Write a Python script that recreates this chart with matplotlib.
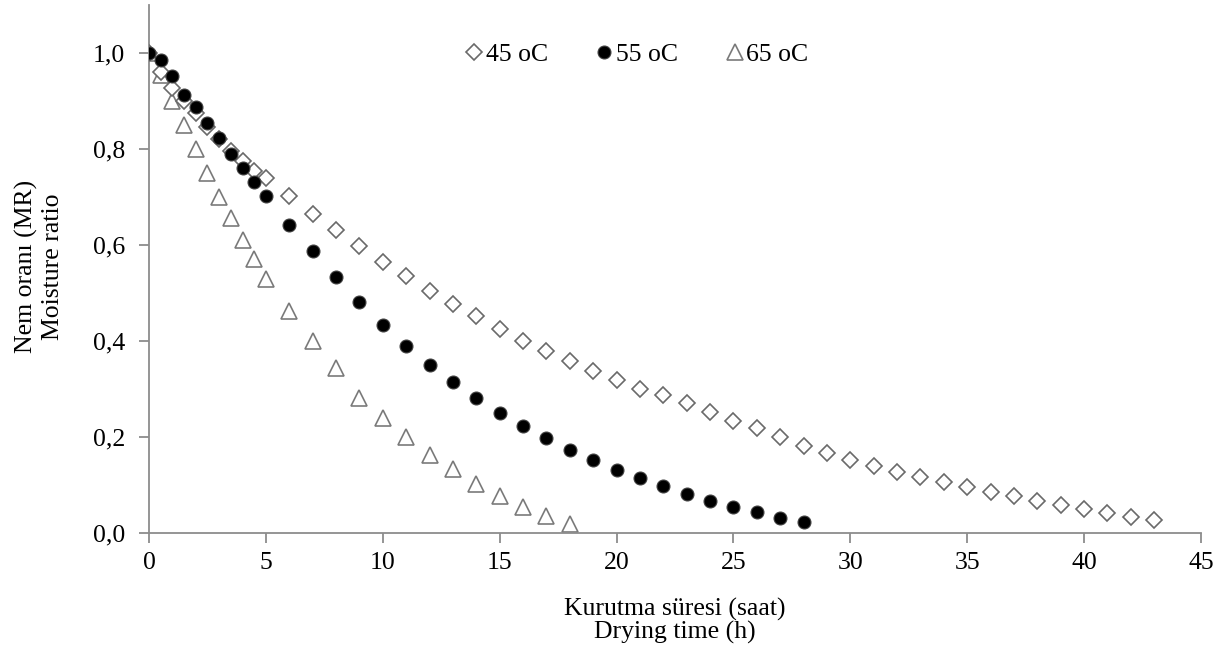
import matplotlib
matplotlib.use("Agg")
import matplotlib.pyplot as plt

plt.rcParams['font.family'] = ['Liberation Serif', 'DejaVu Serif']

# Data
t45 = [0, 0.5, 1, 1.5, 2, 2.5, 3, 3.5, 4, 4.5, 5] + list(range(6, 44))
mr45 = [1.0, 0.96, 0.927, 0.90, 0.875, 0.845, 0.82, 0.795, 0.775, 0.755, 0.74,
        0.703, 0.665, 0.632, 0.598, 0.565, 0.536, 0.505, 0.478, 0.452, 0.425,
        0.401, 0.38, 0.359, 0.338, 0.318, 0.301, 0.287, 0.27, 0.252, 0.234,
        0.218, 0.199, 0.182, 0.167, 0.153, 0.14, 0.128, 0.117, 0.107, 0.096,
        0.086, 0.077, 0.067, 0.059, 0.05, 0.042, 0.034, 0.027]

t55 = [0, 0.5, 1, 1.5, 2, 2.5, 3, 3.5, 4, 4.5, 5] + list(range(6, 29))
mr55 = [1.0, 0.985, 0.953, 0.912, 0.887, 0.855, 0.822, 0.79, 0.76, 0.732, 0.703,
        0.642, 0.588, 0.533, 0.481, 0.433, 0.39, 0.351, 0.315, 0.282, 0.251,
        0.222, 0.197, 0.173, 0.152, 0.132, 0.114, 0.097, 0.081, 0.067, 0.055,
        0.043, 0.031, 0.022]

t65 = [0, 0.5, 1, 1.5, 2, 2.5, 3, 3.5, 4, 4.5, 5] + list(range(6, 19))
mr65 = [1.0, 0.955, 0.90, 0.85, 0.80, 0.75, 0.70, 0.657, 0.61, 0.57, 0.53,
        0.462, 0.40, 0.343, 0.282, 0.24, 0.199, 0.163, 0.133, 0.103, 0.078,
        0.055, 0.035, 0.018]

labels = ['45 oC', '55 oC', '65 oC']
xticks = list(range(0, 46, 5))
yticks = [0.0, 0.2, 0.4, 0.6, 0.8, 1.0]
ytick_labels = ['0,0', '0,2', '0,4', '0,6', '0,8', '1,0']

FS = 18.5

fig = plt.figure(figsize=(12.26, 6.6), dpi=100)
ax = fig.add_axes([149/1226, (660-533)/660, (1201-149)/1226, (533-5)/660])

grey = '#8c8c8c'
ax.plot(t45, mr45, linestyle='none', marker='D', ms=8, mfc='white', mec='#6a6a6a', mew=1.2, label=labels[0], zorder=3)
ax.plot(t55, mr55, linestyle='none', marker='o', ms=9.3, mfc='black', mec='#404040', mew=0.8, label=labels[1], zorder=4)
ax.plot(t65, mr65, linestyle='none', marker='^', ms=11.5, mfc='none', mec='#7a7a7a', mew=1.2, label=labels[2], zorder=2)

ax.set_xlim(0, 45)
ax.set_ylim(0, 1.1)
ax.set_xticks(xticks)
ax.set_xticklabels([str(v) for v in xticks])
ax.set_yticks(yticks)
ax.set_yticklabels(ytick_labels)

for s in ['top', 'right']:
    ax.spines[s].set_visible(False)
for s in ['left', 'bottom']:
    ax.spines[s].set_color(grey)
    ax.spines[s].set_linewidth(1.3)

ax.tick_params(axis='both', direction='out', length=7, width=1.3, color=grey,
               labelsize=FS, labelcolor='black')
ax.tick_params(axis='x', pad=7)
ax.tick_params(axis='y', pad=10)

ax.set_xlabel('Kurutma süresi (saat)\nDrying time (h)', fontsize=FS, linespacing=1.0)
ax.xaxis.set_label_coords(0.5, (533-598)/528)
ax.set_ylabel('Nem oranı (MR)\nMoisture ratio', fontsize=FS, linespacing=1.25)
ax.yaxis.set_label_coords((64-149)/1052, 0.505)

leg = ax.legend(loc='center', bbox_to_anchor=((638-149)/1052, (533-55)/528), ncol=3,
                frameon=False, fontsize=FS, handlelength=0.5, handletextpad=0.2,
                columnspacing=1.95, borderaxespad=0, borderpad=0)

fig.savefig('out.png', dpi=100)
